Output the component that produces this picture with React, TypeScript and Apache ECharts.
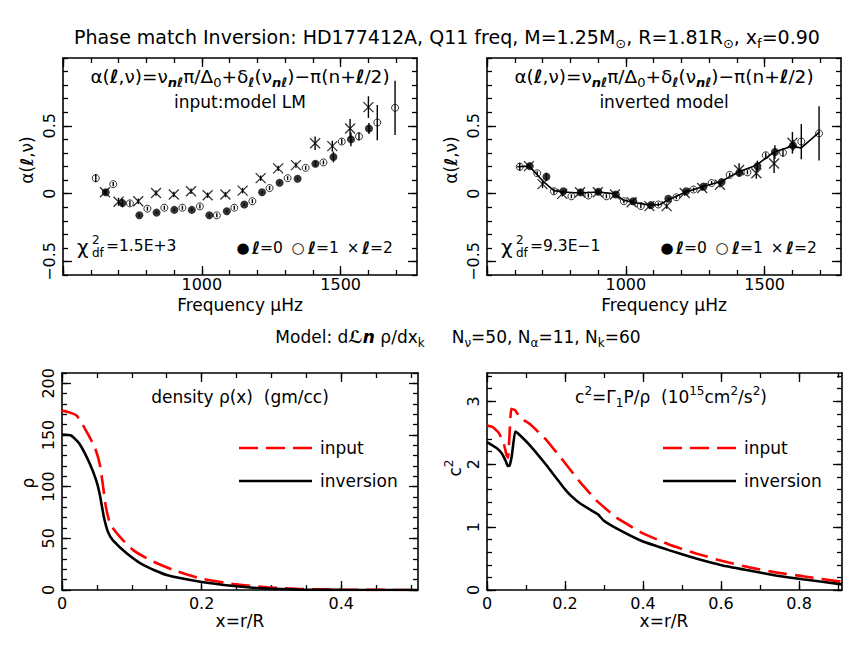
import React, { useEffect, useRef } from "react";
import * as echarts from "echarts";

// ---------- data ----------
const FREQ_L0 = [654, 714, 775, 837, 901, 964, 1027, 1090, 1153, 1217, 1280, 1345, 1409, 1474, 1537, 1602];
const FREQ_L1 = [618, 681, 741, 804, 865, 930, 993, 1054, 1117, 1182, 1244, 1309, 1374, 1438, 1504, 1566, 1632, 1696];
const FREQ_L2 = [651, 700, 771, 835, 899, 961, 1021, 1085, 1147, 1212, 1275, 1339, 1408, 1470, 1534, 1600];

const ERR_L0 = [0.01, 0.03, 0.01, 0.01, 0.01, 0.01, 0.01, 0.01, 0.01, 0.01, 0.01, 0.01, 0.02, 0.04, 0.05, 0.04];
const ERR_L1 = [0.03, 0.015, 0.02, 0.015, 0.015, 0.015, 0.015, 0.015, 0.015, 0.015, 0.015, 0.015, 0.015, 0.015, 0.02, 0.03, 0.13, 0.2];
const ERR_L2 = [0.02, 0.03, 0.02, 0.02, 0.02, 0.02, 0.02, 0.02, 0.02, 0.02, 0.02, 0.02, 0.05, 0.04, 0.07, 0.08];

// input model LM
const INPUT_A0 = [0.01, -0.07, -0.16, -0.14, -0.12, -0.12, -0.16, -0.13, -0.08, 0.01, 0.08, 0.11, 0.22, 0.27, 0.40, 0.48];
const INPUT_A1 = [0.114, 0.07, -0.072, -0.111, -0.104, -0.104, -0.094, -0.16, -0.104, -0.056, 0.041, 0.114, 0.19, 0.23, 0.384, 0.422, 0.524, 0.633];
const INPUT_A2 = [0.01, -0.06, -0.056, 0.005, -0.007, 0.017, -0.012, -0.007, 0.022, 0.114, 0.186, 0.21, 0.372, 0.35, 0.48, 0.638];

// inverted model
const INV_A0 = [0.203, 0.125, 0.017, 0.009, 0.014, -0.007, -0.056, -0.085, -0.038, 0.017, 0.053, 0.085, 0.154, 0.203, 0.307, 0.355];
const INV_A1 = [0.198, 0.15, 0.017, -0.02, -0.014, -0.02, -0.056, -0.092, -0.08, -0.027, 0.03, 0.078, 0.138, 0.157, 0.283, 0.302, 0.384, 0.444];
const INV_A2 = [0.203, 0.07, -0.002, 0.01, 0.01, -0.007, -0.063, -0.092, -0.092, 0.005, 0.041, 0.065, 0.174, 0.15, 0.222, 0.375];

const MODEL_FREQ = [609, 652, 703, 741, 775, 835, 900, 962, 991, 1025, 1087, 1123, 1151, 1216, 1279, 1343, 1408, 1470, 1534, 1599, 1631, 1699];
const MODEL_ALPHA = [0.198, 0.203, 0.089, 0.022, 0.012, 0.005, 0.012, -0.002, -0.048, -0.063, -0.085, -0.08, -0.048, 0.012, 0.053, 0.089, 0.162, 0.21, 0.307, 0.35, 0.336, 0.457];

// density
const RHO_X_INPUT = [0, 0.01, 0.021, 0.033, 0.047, 0.054, 0.059, 0.063, 0.069, 0.083, 0.102, 0.126, 0.16, 0.198, 0.246, 0.294, 0.342, 0.39, 0.45, 0.51];
const RHO_INPUT = [173.6, 172, 168.8, 156, 138, 122, 99.7, 80, 64, 51.4, 38.6, 29, 19.3, 11.3, 5.8, 2.6, 1, 0.3, 0.1, 0];
const RHO_X_INV = [0, 0.013, 0.025, 0.04, 0.049, 0.054, 0.06, 0.066, 0.073, 0.093, 0.117, 0.15, 0.198, 0.246, 0.294, 0.342, 0.4, 0.51];
const RHO_INV = [150.5, 149.5, 141.5, 122, 106, 93, 70.7, 56, 48, 35.4, 24, 14.5, 8, 3.9, 1.3, 0.3, 0.1, 0];

// sound speed squared
const C2_X_INPUT = [0, 0.015, 0.03, 0.042, 0.05, 0.054, 0.058, 0.062, 0.072, 0.085, 0.11, 0.153, 0.196, 0.238, 0.281, 0.332, 0.4, 0.468, 0.536, 0.604, 0.672, 0.74, 0.809, 0.91];
const C2_INPUT = [2.615, 2.59, 2.5, 2.35, 2.15, 2.1, 2.5, 2.88, 2.86, 2.74, 2.64, 2.38, 2.05, 1.72, 1.42, 1.15, 0.9, 0.72, 0.58, 0.46, 0.36, 0.28, 0.22, 0.13];
const C2_X_INV = [0, 0.026, 0.038, 0.048, 0.053, 0.058, 0.064, 0.072, 0.081, 0.11, 0.153, 0.17, 0.185, 0.2, 0.215, 0.238, 0.272, 0.285, 0.298, 0.332, 0.4, 0.468, 0.536, 0.604, 0.672, 0.74, 0.809, 0.91];
const C2_INV = [2.35, 2.25, 2.17, 2.05, 1.97, 1.98, 2.15, 2.52, 2.48, 2.3, 1.98, 1.84, 1.72, 1.6, 1.5, 1.38, 1.25, 1.2, 1.11, 0.98, 0.77, 0.63, 0.5, 0.39, 0.31, 0.23, 0.17, 0.09];

// tick labels
const FREQ_LABELS = [1000, 1500];
const FREQ_MAJOR = [500, 1000, 1500];
const ALPHA_LABELS = [-0.5, 0, 0.5];
const RHO_LABELS = [0, 50, 100, 150, 200];
const RX_LABELS = [0, 0.2, 0.4];
const C2_LABELS = [0, 1, 2, 3];
const CX_LABELS = [0, 0.2, 0.4, 0.6, 0.8];

// ---------- helpers ----------
const FONT = "DejaVu Sans";
const steps = (a: number, b: number, s: number) => {
  const out: number[] = [];
  for (let i = 0; a + i * s <= b + 1e-9; i++) out.push(+(a + i * s).toFixed(6));
  return out;
};
const fmtNum = (v: number) => {
  const s = String(+v.toFixed(4));
  return s.startsWith("-") ? "\u2212" + s.slice(1) : s;
};

function makeAxes(dim: "x" | "y", g: number, min: number, max: number, major: number[], minor: number[], margin: number) {
  const base: any = { type: "value", gridIndex: g, min, max, splitLine: { show: false } };
  const sides = dim === "x" ? ["bottom", "top"] : ["left", "right"];
  const out: any[] = [];
  sides.forEach((pos, i) => {
    out.push({
      ...base,
      position: pos,
      axisLine: { show: true, onZero: false, lineStyle: { color: "#000", width: 1.6 } },
      axisTick: { show: true, inside: true, length: 9, customValues: major, lineStyle: { color: "#000", width: 1.3 } },
      axisLabel: {
        show: i === 0,
        customValues: major,
        formatter: (v: number) => fmtNum(v),
        color: "#000",
        fontFamily: FONT,
        fontSize: 16,
        margin,
        rotate: dim === "y" ? 90 : 0,
      },
    });
    out.push({
      ...base,
      position: pos,
      axisLine: { show: false, onZero: false },
      axisTick: { show: true, inside: true, length: 5, customValues: minor, lineStyle: { color: "#000", width: 1.3 } },
      axisLabel: { show: false },
    });
  });
  return out;
}

const pairs = (xs: number[], ys: number[]) => xs.map((x, i) => [x, ys[i]]);
const triples = (xs: number[], ys: number[], es: number[]) => xs.map((x, i) => [x, ys[i], es[i]]);

function alphaSeries(g: number, a0: number[], a1: number[], a2: number[]) {
  const xi = g * 4;
  const yi = g * 4;
  const errSeries = (data: number[][]) => ({
    type: "custom",
    xAxisIndex: xi,
    yAxisIndex: yi,
    z: 2,
    renderItem: (_p: any, api: any) => {
      const x = api.value(0), y = api.value(1), e = api.value(2);
      const p1 = api.coord([x, y - e]);
      const p2 = api.coord([x, y + e]);
      return { type: "line", shape: { x1: p1[0], y1: p1[1], x2: p2[0], y2: p2[1] }, style: { stroke: "#000", lineWidth: 1.4 } };
    },
    encode: { x: 0, y: 1 },
    data,
  });
  return [
    errSeries(triples(FREQ_L0, a0, ERR_L0)),
    errSeries(triples(FREQ_L1, a1, ERR_L1)),
    errSeries(triples(FREQ_L2, a2, ERR_L2)),
    {
      type: "scatter", xAxisIndex: xi, yAxisIndex: yi, z: 3,
      symbol: "circle", symbolSize: 7,
      itemStyle: { color: "rgba(0,0,0,0)", borderColor: "#000", borderWidth: 1 },
      data: pairs(FREQ_L1, a1),
    },
    {
      type: "scatter", xAxisIndex: xi, yAxisIndex: yi, z: 3,
      symbol: "path://M0 0L10 10M10 0L0 10", symbolSize: 10,
      itemStyle: { color: "rgba(0,0,0,0)", borderColor: "#000", borderWidth: 1.3 },
      data: pairs(FREQ_L2, a2),
    },
    {
      type: "scatter", xAxisIndex: xi, yAxisIndex: yi, z: 4,
      symbol: "circle", symbolSize: 8,
      itemStyle: { color: "#000" },
      data: pairs(FREQ_L0, a0),
    },
  ];
}

// ---------- text helpers ----------
const RICH: any = {
  n: { fontFamily: FONT, fontSize: 17, lineHeight: 24, verticalAlign: "middle", color: "#000" },
  l: { fontFamily: FONT, fontSize: 17, lineHeight: 24, verticalAlign: "middle", fontStyle: "italic", fontWeight: "bold", color: "#000" },
  sub: { fontFamily: FONT, fontSize: 12, lineHeight: 12, verticalAlign: "bottom", color: "#000" },
  sup: { fontFamily: FONT, fontSize: 12, lineHeight: 12, verticalAlign: "top", color: "#000" },
  f: { fontFamily: FONT, fontSize: 18.5, lineHeight: 26, verticalAlign: "middle", color: "#000" },
  fl: { fontFamily: FONT, fontSize: 18.5, lineHeight: 26, verticalAlign: "middle", fontStyle: "italic", fontWeight: "bold", color: "#000" },
  fsub: { fontFamily: FONT, fontSize: 13, lineHeight: 13, verticalAlign: "bottom", color: "#000" },
  fsubl: { fontFamily: FONT, fontSize: 13, lineHeight: 13, verticalAlign: "bottom", fontStyle: "italic", fontWeight: "bold", color: "#000" },
  big: { fontFamily: FONT, fontSize: 19, lineHeight: 26, verticalAlign: "middle", color: "#000" },
  bsub: { fontFamily: FONT, fontSize: 13, lineHeight: 13, verticalAlign: "bottom", color: "#000" },
  chi: { fontFamily: FONT, fontSize: 20, lineHeight: 26, verticalAlign: "middle", color: "#000" },
  val: { fontFamily: FONT, fontSize: 15.5, lineHeight: 24, verticalAlign: "middle", color: "#000" },
  sym: { fontFamily: FONT, fontSize: 15, lineHeight: 24, verticalAlign: "middle", color: "#000" },
  ln: { fontFamily: FONT, fontSize: 17, lineHeight: 24, verticalAlign: "middle", fontStyle: "italic", fontWeight: "bold", color: "#000" },
};

function txt(text: string, x: number, y: number, align = "center", rotation = 0) {
  return {
    type: "text",
    x,
    y,
    rotation,
    z: 100,
    style: {
      text,
      rich: RICH,
      x: 0,
      y: 0,
      fill: "#000",
      fontFamily: FONT,
      fontSize: 17,
      align,
      textAlign: align,
      verticalAlign: "middle",
      textVerticalAlign: "middle",
    },
  };
}

const FORMULA = "{f|α(}{fl|ℓ}{f|,ν)=ν}{fsubl|nℓ}{f|π/Δ}{fsub|0}{f|+δ}{fsubl|ℓ}{f|(ν}{fsubl|nℓ}{f|)−π(n+}{fl|ℓ}{f|/2)}";
const TITLE = "{big|Phase match Inversion: HD177412A, Q11 freq, M=1.25M}{bsub|⊙}{big|, R=1.81R}{bsub|⊙}{big|, x}{bsub|f}{big|=0.90}";
const MODEL_LINE = "{n|Model: d}{ln|ℒn}{n| ρ/dx}{sub|k}{n|     N}{sub|ν}{n|=50, N}{sub|α}{n|=11, N}{sub|k}{n|=60}";
const C2_TITLE = "{n|c}{sup|2}{n|=Γ}{sub|1}{n|P/ρ  (10}{sup|15}{n|cm}{sup|2}{n|/s}{sup|2}{n|)}";

function chi(x: number, y: number, val: string) {
  return [
    txt("{chi|χ}", x, y, "left"),
    txt("{sup|2}", x + 15, y - 7, "left"),
    txt("{sub|df}", x + 15, y + 6, "left"),
    txt(`{val|${val}}`, x + 29, y - 1, "left"),
  ];
}

function symLegend(xRight: number, y: number) {
  const x0 = xRight - 164;
  return [
    txt("{sym|●}", x0, y, "center"),
    txt("{l|ℓ}{val|=0}", x0 + 9, y, "left"),
    txt("{sym|○}", x0 + 55, y, "center"),
    txt("{l|ℓ}{val|=1}", x0 + 65, y, "left"),
    txt("{sym|×}", x0 + 110, y, "center"),
    txt("{l|ℓ}{val|=2}", x0 + 119, y, "left"),
  ];
}

function lineLegend(x1: number, x2: number, y: number, dashed: boolean, label: string) {
  return [
    {
      type: "line",
      z: 100,
      shape: { x1, y1: y, x2, y2: y },
      style: dashed
        ? { stroke: "#ff0000", lineWidth: 2.6, lineDash: [19, 8] }
        : { stroke: "#000", lineWidth: 2.6 },
    },
    txt(`{n|${label}}`, x2 + 8, y, "left"),
  ];
}

export default function App() {
  const ref = useRef<HTMLDivElement>(null);
  useEffect(() => {
    if (!ref.current) return;
    const chart = echarts.init(ref.current, undefined, { renderer: "svg" });

    const grids = [
      { left: 63, top: 58, width: 354, height: 217 },
      { left: 487, top: 58, width: 354, height: 217 },
      { left: 62, top: 373, width: 356, height: 217 },
      { left: 487, top: 373, width: 355, height: 217 },
    ];

    const xAxis = [
      ...makeAxes("x", 0, 500, 1775, FREQ_MAJOR, steps(500, 1775, 100), 1),
      ...makeAxes("x", 1, 500, 1775, FREQ_MAJOR, steps(500, 1775, 100), 1),
      ...makeAxes("x", 2, 0, 0.51, RX_LABELS, steps(0, 0.51, 0.05), 5),
      ...makeAxes("x", 3, 0, 0.91, CX_LABELS, steps(0, 0.91, 0.1), 5),
    ];
    [0, 4].forEach((i) => {
      xAxis[i].axisLabel.customValues = FREQ_LABELS;
    });
    const yAxis = [
      ...makeAxes("y", 0, -0.6, 1.0, ALPHA_LABELS, steps(-0.6, 1.0, 0.1), 6),
      ...makeAxes("y", 1, -0.6, 1.0, ALPHA_LABELS, steps(-0.6, 1.0, 0.1), 6),
      ...makeAxes("y", 2, 0, 210, RHO_LABELS, steps(0, 210, 10), 6),
      ...makeAxes("y", 3, 0, 3.45, C2_LABELS, steps(0, 3.45, 0.2), 6),
    ];

    const series: any[] = [
      ...alphaSeries(0, INPUT_A0, INPUT_A1, INPUT_A2),
      {
        type: "line", xAxisIndex: 4, yAxisIndex: 4, z: 1, symbol: "none",
        lineStyle: { color: "#000", width: 1.6 },
        data: pairs(MODEL_FREQ, MODEL_ALPHA),
      },
      ...alphaSeries(1, INV_A0, INV_A1, INV_A2),
      {
        type: "line", xAxisIndex: 8, yAxisIndex: 8, symbol: "none", smooth: 0.2,
        lineStyle: { color: "#ff0000", width: 2.6, type: [19, 8] },
        data: pairs(RHO_X_INPUT, RHO_INPUT),
      },
      {
        type: "line", xAxisIndex: 8, yAxisIndex: 8, symbol: "none", smooth: 0.2,
        lineStyle: { color: "#000", width: 2.6 },
        data: pairs(RHO_X_INV, RHO_INV),
      },
      {
        type: "line", xAxisIndex: 12, yAxisIndex: 12, symbol: "none", smooth: 0.1,
        lineStyle: { color: "#ff0000", width: 2.6, type: [19, 8] },
        data: pairs(C2_X_INPUT, C2_INPUT),
      },
      {
        type: "line", xAxisIndex: 12, yAxisIndex: 12, symbol: "none", smooth: 0.1,
        lineStyle: { color: "#000", width: 2.6 },
        data: pairs(C2_X_INV, C2_INV),
      },
    ];

    const graphic: any[] = [
      txt(TITLE, 447, 37),
      txt(FORMULA, 240, 76),
      txt(FORMULA, 664, 76),
      txt("{n|input:model LM}", 240, 102),
      txt("{n|inverted model}", 664, 102),
      ...chi(77, 247, "=1.5E+3"),
      ...chi(501, 247, "=9.3E−1"),
      ...symLegend(407, 248),
      ...symLegend(831, 248),
      txt("{n|α(}{l|ℓ}{n|,ν)}", 27, 160, "center", Math.PI / 2),
      txt("{n|α(}{l|ℓ}{n|,ν)}", 451, 160, "center", Math.PI / 2),
      txt("{n|Frequency μHz}", 240, 305),
      txt("{n|Frequency μHz}", 664, 305),
      txt(MODEL_LINE, 458, 337),
      txt("{n|density ρ(x)  (gm/cc)}", 240, 397),
      txt(C2_TITLE, 671, 397),
      ...lineLegend(239, 312, 448, true, "input"),
      ...lineLegend(239, 312, 481, false, "inversion"),
      ...lineLegend(663, 736, 448, true, "input"),
      ...lineLegend(663, 736, 481, false, "inversion"),
      txt("{n|ρ}", 28, 483, "center", Math.PI / 2),
      txt("{n|c}{sup|2}", 455, 468, "center", Math.PI / 2),
      txt("{n|x=r/R}", 240, 621),
      txt("{n|x=r/R}", 664, 621),
    ];

    chart.setOption({
      animation: false,
      backgroundColor: "#fff",
      textStyle: { fontFamily: FONT },
      grid: grids.map((g) => ({ ...g, containLabel: false })),
      xAxis,
      yAxis,
      series,
      graphic,
    });
    return () => chart.dispose();
  }, []);
  return <div ref={ref} style={{ position: "fixed", left: 0, top: 0, width: 865, height: 668, background: "#fff" }} />;
}
